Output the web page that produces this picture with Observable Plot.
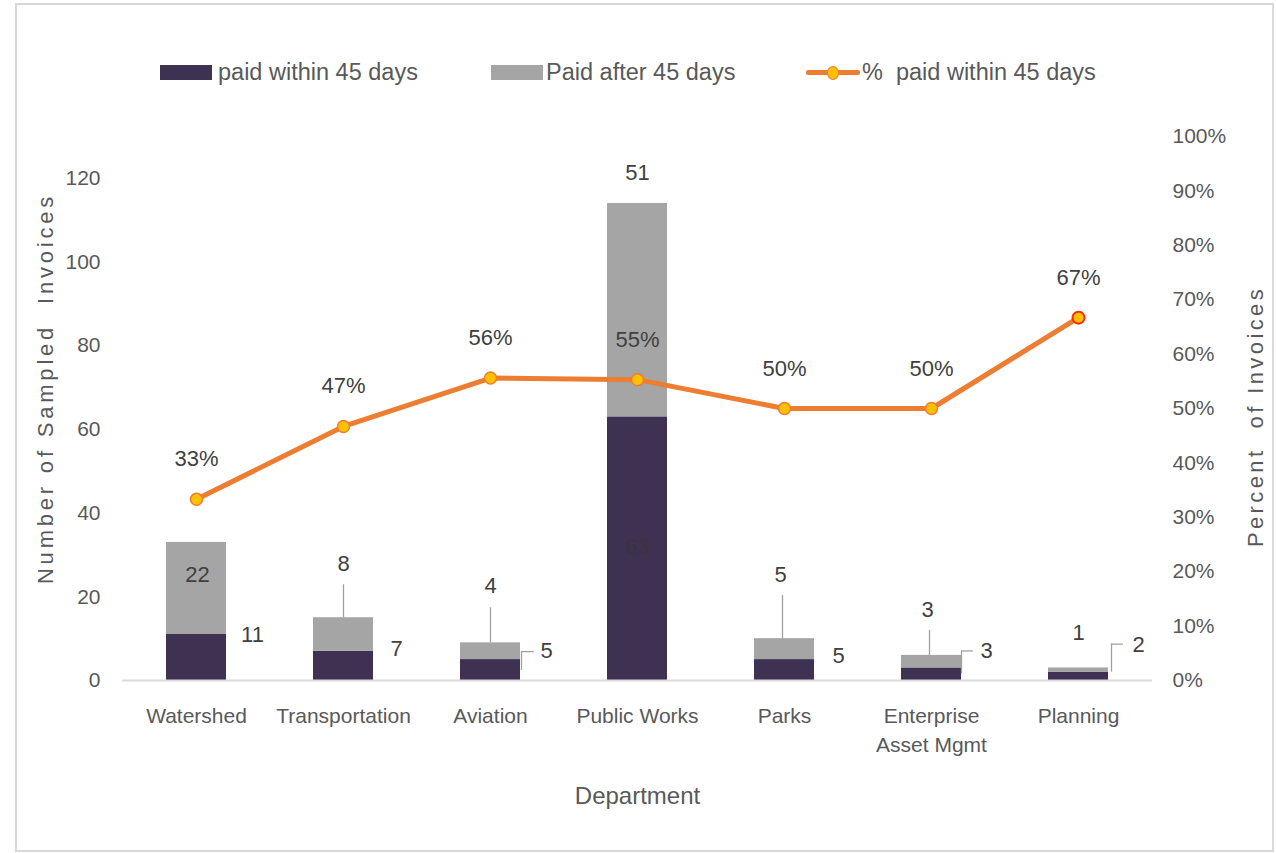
<!DOCTYPE html>
<html>
<head>
<meta charset="utf-8">
<script src="https://cdn.jsdelivr.net/npm/d3@7"></script>
<script src="https://cdn.jsdelivr.net/npm/@observablehq/plot@0.6"></script>
<style>
  body { margin: 0; background: #fff; font-family: "Liberation Sans", Arial, sans-serif; }
  #wrap { position: relative; width: 1276px; height: 853px; overflow: hidden; background: #fff; }
  #frame { position: absolute; left: 15px; top: 3px; width: 1259px; height: 849px; border: 2px solid #d9d9d9; box-sizing: border-box; pointer-events: none; }
  #legend { position: absolute; left: 0; top: 0; width: 1276px; height: 100px; }
  .sw { position: absolute; }
  .lt { position: absolute; top: 58px; height: 28px; line-height: 28px; font-size: 23.5px; color: #595959; white-space: pre; }
  #chart { position: absolute; left: 0; top: 100px; }
</style>
</head>
<body>
<div id="wrap">
  <div id="legend"></div>
  <div id="chart"></div>
  <div id="frame"></div>
</div>
<script>
// ---------------- data ----------------
const departments = ["Watershed", "Transportation", "Aviation", "Public Works", "Parks", "Enterprise Asset Mgmt", "Planning"];
const departmentLabels = ["Watershed", "Transportation", "Aviation", "Public Works", "Parks", "Enterprise\nAsset Mgmt", "Planning"];
const paidWithin = [11, 7, 5, 63, 5, 3, 2];
const paidAfter = [22, 8, 4, 51, 5, 3, 1];
const pctWithin = [0.333, 0.467, 0.556, 0.553, 0.50, 0.50, 0.667];
const pctLabels = ["33%", "47%", "56%", "55%", "50%", "50%", "67%"];
const leftTicks = [0, 20, 40, 60, 80, 100, 120];
const rightTicks = [0, 0.1, 0.2, 0.3, 0.4, 0.5, 0.6, 0.7, 0.8, 0.9, 1.0];
const seriesNames = ["paid within 45 days", "Paid after 45 days"];
const lineName = "%  paid within 45 days";
const yTitle = "Number of Sampled  Invoices";
const y2Title = "Percent  of Invoices";
const xTitle = "Department";

// ---------------- styles / layout ----------------
const DARK = "#3f3151", GRAY = "#a5a5a5", ORANGE = "#ed7d31", YELLOW = "#ffc000";
const LABEL = "#404040", AXIS = "#595959", LEADER = "#a0a0a0";
const W = 1276, H = 753, mT = 36, mB = 173, mL = 122, mR = 124;
const yMax = 130;
const pad = 0.59;
const frameH = H - mT - mB;
const u = px => px * yMax / frameH;           // pixel length -> y units
const bw = (W - mL - mR) / departments.length * (1 - pad);

// label placement (pixel nudges, like hand-placed Excel labels)
const afterPlace = {
  "Watershed": {dx: 1, dy: 33},
  "Transportation": {dx: 0, dy: -54, lead: [-33, 0], ldx: 0},
  "Aviation": {dx: 0, dy: -57, lead: [-35, 0], ldx: 0},
  "Public Works": {dx: 0, dy: -31},
  "Parks": {dx: -4, dy: -64, lead: [-43, 0], ldx: -2},
  "Enterprise Asset Mgmt": {dx: -4, dy: -45, lead: [-25, 0], ldx: -2},
  "Planning": {dx: 0, dy: -35}
};
const withinPlace = {
  "Watershed": {dx: 56, dy: 0},
  "Transportation": {dx: 53, dy: -2},
  "Aviation": {dx: 56, dy: -9, hook: {y: -8, x1: 31, x2: 44, down: 11}},
  "Public Works": {dx: 0, dy: 130, dark: true},
  "Parks": {dx: 54, dy: -4},
  "Enterprise Asset Mgmt": {dx: 55, dy: -17, hook: {y: -17, x1: 30, x2: 42, down: 6}},
  "Planning": {dx: 60, dy: -27, hook: {y: -28, x1: 33, x2: 45, down: 0}}
};

// ---------------- legend (HTML) ----------------
const legend = document.getElementById("legend");
legend.innerHTML = `
  <div class="sw" style="left:160px;top:65px;width:52px;height:15px;background:${DARK}"></div>
  <div class="lt" style="left:218px">${seriesNames[0]}</div>
  <div class="sw" style="left:491px;top:65px;width:52px;height:15px;background:${GRAY}"></div>
  <div class="lt" style="left:546px">${seriesNames[1]}</div>
  <div class="sw" style="left:806px;top:70px;width:54px;height:5px;background:${ORANGE};border-radius:2px"></div>
  <div class="sw" style="left:827px;top:66px;width:10px;height:12px;background:${YELLOW};border:1.5px solid ${ORANGE};border-radius:50%"></div>
  <div class="lt" style="left:862px">${lineName}</div>
`;

// ---------------- chart ----------------
const rows = departments.flatMap((d, i) => [
  {dept: d, series: seriesNames[0], value: paidWithin[i]},
  {dept: d, series: seriesNames[1], value: paidAfter[i]}
]);

const marks = [
  Plot.barY(rows, {x: "dept", y: "value", fill: "series"}),
  Plot.ruleY([0], {stroke: "#d9d9d9", strokeWidth: 2}),
  Plot.axisY(leftTicks, {anchor: "left", tickSize: 0, tickPadding: 22, label: null, fontSize: 21, tickFormat: d => String(d)}),
  Plot.axisY(rightTicks.map(p => p * yMax), {anchor: "right", tickSize: 0, tickPadding: 20, label: null, fontSize: 21,
    tickFormat: d => Math.round(d / yMax * 100) + "%"}),
  Plot.text(departments, {x: d => d, text: (d, i) => departmentLabels[i], frameAnchor: "bottom", lineAnchor: "top",
    dy: 22, lineHeight: 1.38, fontSize: 21, fill: AXIS}),
  Plot.text([xTitle], {frameAnchor: "bottom", dy: 123, fontSize: 24, fill: AXIS}),
  Plot.text([yTitle], {frameAnchor: "left", textAnchor: "middle", dx: -77, dy: -20, rotate: -90, fontSize: 22, fill: AXIS}),
  Plot.text([y2Title], {frameAnchor: "right", textAnchor: "middle", dx: 103, dy: 8, rotate: -90, fontSize: 22, fill: AXIS}),
  Plot.line(departments, {x: d => d, y: (d, i) => pctWithin[i] * yMax, stroke: ORANGE, strokeWidth: 5, strokeLinejoin: "round"}),
  Plot.dot(departments, {filter: (d, i) => i < departments.length - 1, x: d => d, y: (d, i) => pctWithin[i] * yMax,
    r: 6, fill: YELLOW, stroke: ORANGE, strokeWidth: 1.5}),
  Plot.dot(departments, {filter: (d, i) => i === departments.length - 1, x: d => d, y: (d, i) => pctWithin[i] * yMax,
    r: 6, fill: YELLOW, stroke: "#ff2a00", strokeWidth: 2}),
  Plot.text(departments, {x: d => d, y: (d, i) => pctWithin[i] * yMax, text: (d, i) => pctLabels[i], dy: -40, fontSize: 22, fill: LABEL})
];

departments.forEach((d, i) => {
  const top = paidWithin[i] + paidAfter[i];
  const a = afterPlace[d];
  marks.push(Plot.text([i], {x: () => d, y: () => top, text: () => String(paidAfter[i]), dx: a.dx, dy: a.dy, fontSize: 22, fill: LABEL}));
  if (a.lead) {
    marks.push(Plot.ruleX([i], {x: () => d, y1: () => top - u(a.lead[0]), y2: () => top - u(a.lead[1]), dx: a.ldx, stroke: LEADER, strokeWidth: 1.3}));
  }
  const w = withinPlace[d];
  const anchor = paidWithin[i];
  marks.push(Plot.text([i], {x: () => d, y: () => anchor, text: () => String(paidWithin[i]), dx: w.dx, dy: w.dy, fontSize: 22, fill: w.dark ? "#3a3440" : LABEL}));
  if (w.hook) {
    const h = w.hook, len = h.x2 - h.x1;
    marks.push(Plot.tickY([i], {x: () => d, y: () => anchor - u(h.y), dx: (h.x1 + h.x2) / 2,
      insetLeft: bw / 2 - len / 2, insetRight: bw / 2 - len / 2, stroke: LEADER, strokeWidth: 1.3}));
    marks.push(Plot.ruleX([i], {x: () => d, y1: () => anchor - u(h.y), y2: () => anchor - u(h.down), dx: h.x1, stroke: LEADER, strokeWidth: 1.3}));
  }
});

const chart = Plot.plot({
  width: W, height: H,
  marginTop: mT, marginBottom: mB, marginLeft: mL, marginRight: mR,
  style: {fontFamily: "'Liberation Sans', Arial, sans-serif", fontSize: "21px", color: AXIS, background: "transparent"},
  x: {type: "band", domain: departments, padding: pad, paddingOuter: pad / 2, axis: null},
  y: {domain: [0, yMax], axis: null},
  color: {domain: seriesNames, range: [DARK, GRAY]},
  marks
});
// widen the letter spacing of the two rotated axis titles, as in the reference
d3.select(chart).selectAll("text").filter(function() { return this.textContent === yTitle; }).attr("letter-spacing", "3.8px");
d3.select(chart).selectAll("text").filter(function() { return this.textContent === y2Title; }).attr("letter-spacing", "3.4px");
document.getElementById("chart").appendChild(chart);
</script>
</body>
</html>
